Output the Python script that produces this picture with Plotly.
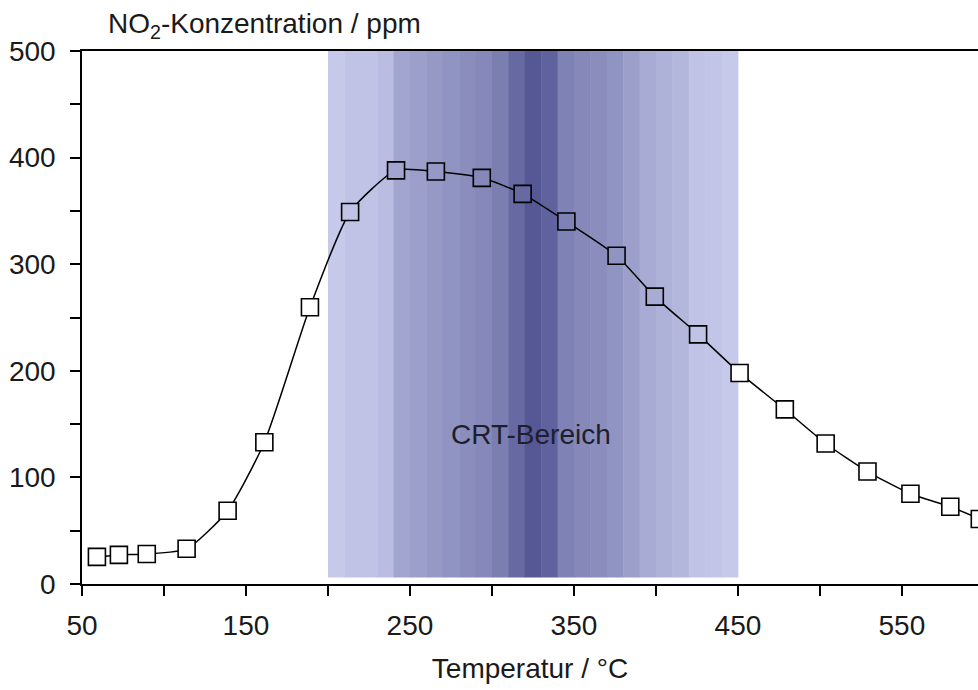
import plotly.graph_objects as go
import numpy as np

# ---- data ----
temperature = [59.1, 72.5, 89.5, 113.8, 138.8, 161.2, 189.0, 213.5, 241.5, 265.8, 293.8,
               318.7, 345.4, 376.0, 399.3, 425.7, 451.0, 478.6, 503.5, 529.0, 555.2, 579.5, 597.5]
no2_ppm = [25.4, 27.3, 28.2, 33.0, 68.7, 133.0, 259.6, 349.0, 388.0, 387.0, 381.0,
           366.0, 340.0, 307.9, 269.6, 234.2, 198.0, 163.8, 131.8, 105.5, 84.7, 72.5, 61.0]
crt_start, crt_end = 200, 450
crt_label = "CRT-Bereich"
x_tickvals = [50, 150, 250, 350, 450, 550]
y_tickvals = [0, 100, 200, 300, 400, 500]

# ---- band shading (style) ----
shade = [0.05, 0.10, 0.10, 0.15, 0.35, 0.40, 0.45, 0.50, 0.55, 0.60, 0.68, 0.85, 1.00,
         0.92, 0.65, 0.60, 0.55, 0.50, 0.40, 0.30, 0.25, 0.20, 0.10, 0.08, 0.05]
light = np.array([0xcc, 0xcf, 0xee])
dark = np.array([0x55, 0x58, 0x95])
edges = np.linspace(crt_start, crt_end, len(shade) + 1)

def shade_color(s):
    c = light + (dark - light) * s
    return "rgb(%d,%d,%d)" % tuple(int(round(v)) for v in c)

FONT = "Liberation Sans, Arial, sans-serif"
FS = 28
fig = go.Figure()

for i, s in enumerate(shade):
    fig.add_shape(type="rect", xref="x", yref="y", x0=edges[i], x1=edges[i + 1] + 0.3,
                  y0=6, y1=500, fillcolor=shade_color(s), line_width=0, layer="below")

marker_colors = []
for t in temperature:
    if crt_start <= t <= crt_end:
        idx = min(int((t - crt_start) / (crt_end - crt_start) * len(shade)), len(shade) - 1)
        marker_colors.append(shade_color(shade[idx]))
    else:
        marker_colors.append("white")

fig.add_trace(go.Scatter(
    x=temperature, y=no2_ppm, mode="lines+markers",
    line=dict(color="black", width=1.5, shape="spline", smoothing=0.6),
    marker=dict(symbol="square", size=17, color=marker_colors,
                line=dict(color="black", width=1.6)),
    showlegend=False, hoverinfo="x+y"))

fig.add_annotation(x=(crt_start + crt_end) / 2 - 1, y=140, xref="x", yref="y",
                   text=crt_label, showarrow=False,
                   font=dict(family=FONT, size=FS, color="#1e1e2e"))
fig.add_annotation(x=(106 - 82) / (978 - 82), y=1.047, xref="paper", yref="paper",
                   xanchor="left", yanchor="middle",
                   text="NO<sub>2</sub>-Konzentration / ppm", showarrow=False,
                   font=dict(family=FONT, size=FS, color="#1a1a1a"))

fig.update_layout(
    width=978, height=690,
    margin=dict(l=82, r=0, t=51, b=106),
    paper_bgcolor="white", plot_bgcolor="white",
    font=dict(family=FONT, size=FS, color="#1a1a1a"),
    xaxis=dict(range=[50, 596.4], tickvals=x_tickvals, ticks="outside", ticklen=10,
               tickwidth=1.5, tickcolor="black", showline=True, linecolor="black",
               linewidth=1.5, mirror=True, showgrid=False, zeroline=False,
               minor=dict(dtick=50, tick0=50, ticks="outside", ticklen=10, tickwidth=1.5,
                          tickcolor="black", showgrid=False),
               ticklabelstandoff=6,
               title=dict(text="Temperatur / °C", standoff=18,
                          font=dict(family=FONT, size=FS))),
    yaxis=dict(range=[0, 500], tickvals=y_tickvals, ticks="outside", ticklen=10,
               tickwidth=1.5, tickcolor="black", showline=True, linecolor="black",
               linewidth=1.5, mirror=False, showgrid=False, zeroline=False,
               minor=dict(dtick=50, tick0=0, ticks="outside", ticklen=10, tickwidth=1.5,
                          tickcolor="black", showgrid=False),
               ticklabelstandoff=9),
)

fig.write_html("out.html")
